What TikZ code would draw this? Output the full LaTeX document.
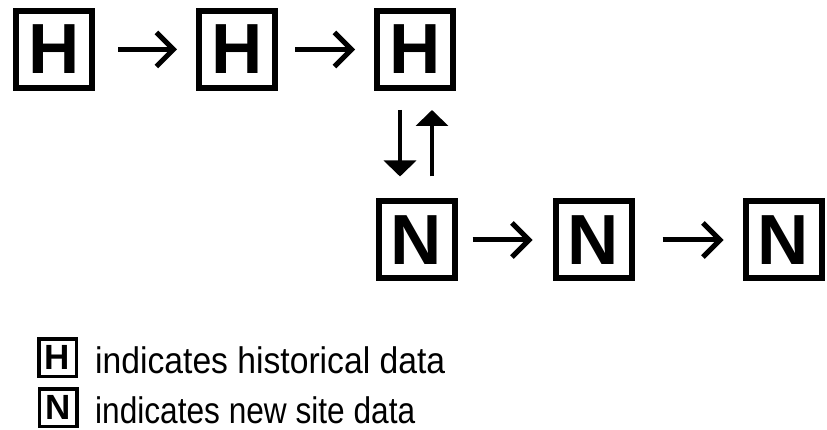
\documentclass[tikz,border=0pt]{standalone}
\usepackage{fontspec}
\setmainfont{Liberation Sans}
\usetikzlibrary{arrows.meta}
\begin{document}
\begin{tikzpicture}[x=1pt,y=-1pt,
  bigbox/.style={draw, line width=6pt, minimum width=76pt, minimum height=77pt, inner sep=0pt,
    font=\fontsize{71}{71}\selectfont\bfseries},
  smallbox/.style={draw, line width=3.5pt, minimum size=37.5pt, inner sep=0pt,
    font=\fontsize{35}{35}\selectfont\bfseries},
  harrow/.style={line width=5pt, -{Straight Barb[length=17pt,width=34pt]}},
  varrow/.style={line width=4pt, -{Triangle[length=16pt,width=32pt]}},
  legtext/.style={anchor=base west, inner sep=0pt, font=\fontsize{37}{37}\selectfont}
]
\useasboundingbox (0,0) rectangle (827,430);
% top row
\node[bigbox] (h1) at (54,49.5) {H};
\node[bigbox] (h2) at (237,49.5) {H};
\node[bigbox] (h3) at (415,49.5) {H};
% bottom row
\node[bigbox] (n1) at (416.5,240) {N};
\node[bigbox] (n2) at (593.5,240) {N};
\node[bigbox] (n3) at (783.5,240) {N};
% horizontal arrows
\draw[harrow, shorten <=23pt, shorten >=19pt] (h1.east) -- (h2.west);
\draw[harrow, shorten <=17pt, shorten >=19pt] (h2.east) -- (h3.west);
\draw[harrow, shorten <=15pt, shorten >=20pt] (n1.east) -- (n2.west);
\draw[harrow, shorten <=28pt, shorten >=19pt] (n2.east) -- (n3.west);
% vertical arrows
\draw[varrow, shorten <=19pt, shorten >=22pt] ([xshift=-15pt]h3.south) -- ([xshift=-16.5pt]n1.north);
\draw[varrow, shorten <=22pt, shorten >=19pt] ([xshift=15.5pt]n1.north) -- ([xshift=17pt]h3.south);
% legend
\node[smallbox] (lh) at (57.5,357.5) {H};
\node[smallbox] (ln) at (58,407.5) {N};
\node[legtext] (lt1) at (95,373) {\resizebox{350pt}{\height}{indicates historical data}};
\node[legtext] (lt2) at (95,423) {\resizebox{320pt}{\height}{indicates new site data}};
\end{tikzpicture}
\end{document}
